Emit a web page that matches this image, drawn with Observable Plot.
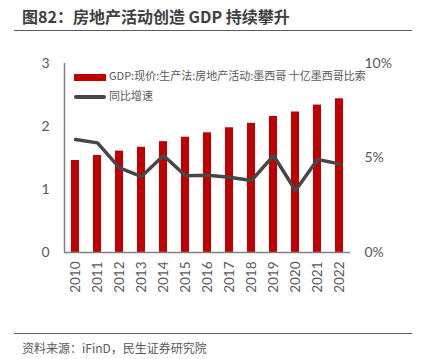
<!DOCTYPE html>
<html><head><meta charset="utf-8">
<script src="https://cdn.jsdelivr.net/npm/d3@7"></script>
<script src="https://cdn.jsdelivr.net/npm/@observablehq/plot@0.6"></script>
<style>
body{margin:0;background:#fff;font-family:Lato,"Noto Sans CJK SC",sans-serif;}
#wrap{position:relative;width:421px;height:359px;overflow:hidden;}
#title{position:absolute;left:22px;top:4px;font-size:16px;font-weight:bold;color:#404040;font-family:"Noto Sans CJK SC",sans-serif;line-height:24px;white-space:nowrap;}
.hr{position:absolute;left:14px;width:398px;height:0;border-top:1.5px solid #5a5a5a;}
#chart{position:absolute;left:0;top:34px;}
#src{position:absolute;left:22px;top:340px;font-size:12px;color:#595959;line-height:16px;font-family:"Noto Sans CJK SC",sans-serif;white-space:nowrap;}
.lg{position:absolute;left:74px;font-size:11px;color:#595959;font-family:"Noto Sans CJK SC",sans-serif;white-space:nowrap;line-height:14px;}
.lg .sw{display:inline-block;width:32px;vertical-align:middle;margin-right:3px;}
</style></head>
<body>
<div id="wrap">
  <div id="title">图82：房地产活动创造 GDP 持续攀升</div>
  <div class="hr" style="top:30px"></div>
  <div id="chart"></div>
  <div class="lg" style="top:68px"><span class="sw" style="height:7px;background:#C00000"></span>GDP:现价:生产法:房地产活动:墨西哥 十亿墨西哥比索</div>
  <div class="lg" style="top:88px"><span class="sw" style="height:4px;border-radius:2px;background:#474747"></span>同比增速</div>
  <div class="hr" style="top:333px"></div>
  <div id="src">资料来源：iFinD，民生证券研究院</div>
</div>
<script>
const years = ["2010","2011","2012","2013","2014","2015","2016","2017","2018","2019","2020","2021","2022"];
const gdp = [1.46,1.54,1.61,1.67,1.76,1.83,1.90,1.98,2.05,2.16,2.23,2.34,2.44];
const growth = [5.98,5.80,4.48,4.02,5.13,4.06,4.09,3.98,3.81,5.13,3.28,4.92,4.69];
const leftTicks = [0,1,2,3];
const rightTicks = [0,5,10];
const k = 3/10; // 10% maps to top of left axis (3)
const data = years.map((y,i)=>({year:y, gdp:gdp[i], growth:growth[i]}));
const grey = "#595959";
const chart = Plot.plot({
  width:421, height:300,
  marginLeft:64, marginRight:71, marginTop:29, marginBottom:82,
  style:{fontFamily:"Lato, sans-serif", color:grey, background:"transparent"},
  x:{domain:years, paddingInner:0.64, paddingOuter:0.32, axis:null, label:null},
  y:{domain:[0,3], axis:null, label:null},
  marks:[
    Plot.barY(data,{x:"year", y:"gdp", fill:"#C00000"}),
    Plot.ruleY([0],{stroke:"#808080", strokeWidth:1.5}),
    Plot.ruleX([years[0]],{dx:-11, y1:0, y2:3, stroke:"#808080", strokeWidth:1.5}),
    Plot.lineY(data,{x:"year", y:d=>d.growth*k, stroke:"#474747", strokeWidth:3.5}),
    Plot.axisX({tickRotate:-90, tickSize:0, tickPadding:9, fontSize:13.5, fill:grey, label:null}),
    Plot.axisY({anchor:"left", ticks:leftTicks, tickFormat:d=>String(d), tickSize:0, tickPadding:15, fontSize:14, fill:grey, label:null}),
    Plot.axisY({anchor:"right", ticks:rightTicks.map(t=>t*k), tickFormat:d=>Math.round(d/k)+"%", tickSize:0, tickPadding:14, fontSize:14, fill:grey, label:null})
  ]
});
document.getElementById("chart").appendChild(chart);
</script>
</body></html>
